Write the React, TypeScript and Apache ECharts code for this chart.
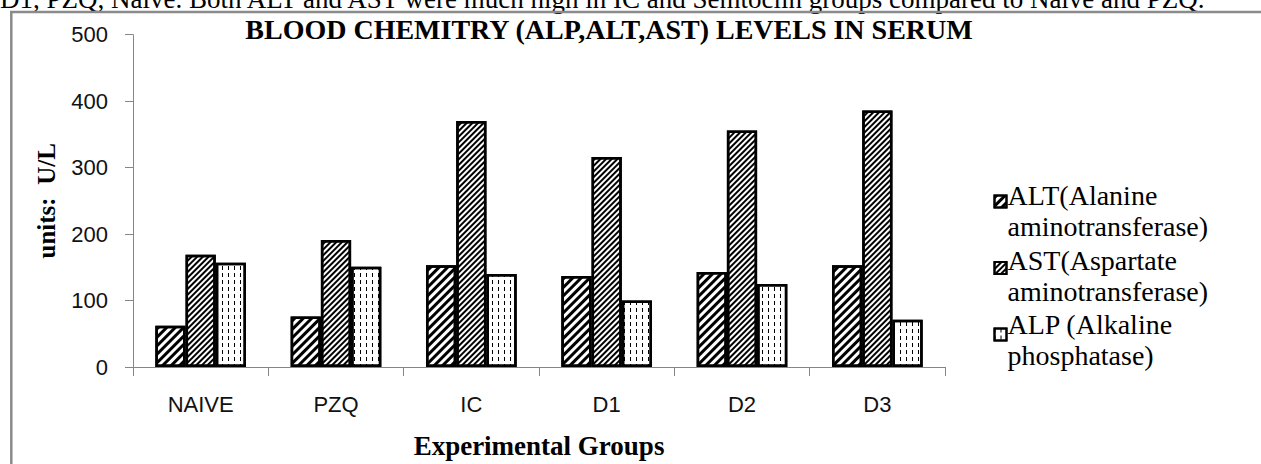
import React, { useEffect, useRef } from "react";
import * as echarts from "echarts";

const categories = ["NAIVE", "PZQ", "IC", "D1", "D2", "D3"];
const altValues = [62, 76, 153, 137, 143, 153];
const astValues = [169, 191, 370, 316, 356, 386];
const alpValues = [157, 151, 140, 100, 125, 71];
const seriesNames = [
  "ALT(Alanine\naminotransferase)",
  "AST(Aspartate\naminotransferase)",
  "ALP (Alkaline\nphosphatase)",
];
const yTicks = { min: 0, max: 500, interval: 100 };

const title = "BLOOD CHEMITRY (ALP,ALT,AST) LEVELS IN SERUM";
const topText =
  "D1, PZQ, Naive. Both ALT and AST were much high in IC and Semtoclin groups compared to Naive and PZQ.";

const serif = "'Liberation Serif', 'Times New Roman', serif";
const sans = "'Liberation Sans', Arial, sans-serif";

export default function App() {
  const ref = useRef<HTMLDivElement>(null);
  useEffect(() => {
    if (!ref.current) return;
    const chart = echarts.init(ref.current, null, { renderer: "svg" });
    const decals = [
      {
        symbol: "rect",
        symbolSize: 1,
        color: "#000",
        backgroundColor: "#fff",
        dashArrayX: [1, 0],
        dashArrayY: [3, 3],
        rotation: -Math.PI / 4,
      },
      {
        symbol: "rect",
        symbolSize: 1,
        color: "#000",
        backgroundColor: "#fff",
        dashArrayX: [1, 0],
        dashArrayY: [2, 2],
        rotation: -Math.PI / 4,
      },
      {
        symbol: "rect",
        symbolSize: 1,
        color: "#000",
        backgroundColor: "#fff",
        dashArrayX: [1, 5],
        dashArrayY: [4, 3],
        rotation: 0,
      },
    ];
    const data = [altValues, astValues, alpValues];
    const legendLeft = 988.5;
    const firstCenter = 195.5;
    const lineH = 31;
    const itemStep = 64.5;
    const legendFont = 28;
    const iconSize = 12;
    const legendTexts = seriesNames.map((n, i) => ({
      type: "text",
      x: legendLeft + iconSize + 7,
      y: firstCenter - lineH / 2 + i * itemStep,
      style: {
        text: n,
        font: `${legendFont}px ${serif}`,
        lineHeight: lineH,
        fill: "#000",
        verticalAlign: "top",
        align: "left",
      },
    }));
    chart.setOption({
      animation: false,
      backgroundColor: "#fff",
      grid: { left: 133, right: 316, top: 34.7, bottom: 88 },
      title: {
        text: title,
        left: 604,
        textAlign: "center",
        top: 10,
        textStyle: { fontFamily: serif, fontWeight: "bold", fontSize: 28, color: "#000" },
      },
      legend: {
        orient: "vertical",
        left: legendLeft,
        top: firstCenter - iconSize / 2,
        itemWidth: iconSize,
        itemHeight: iconSize,
        itemGap: itemStep - iconSize,
        icon: "rect",
        data: seriesNames,
        formatter: () => "",
        textStyle: { fontSize: 1 },
      },
      xAxis: {
        type: "category",
        data: categories,
        name: "Experimental Groups",
        nameLocation: "middle",
        nameGap: 65,
        nameTextStyle: {
          fontFamily: serif,
          fontWeight: "bold",
          fontSize: 27,
          color: "#000",
        },
        axisLine: { lineStyle: { color: "#868686", width: 1 } },
        axisTick: { show: true, length: 9, lineStyle: { color: "#868686" } },
        axisLabel: { fontFamily: sans, fontSize: 22, color: "#111", margin: 26 },
      },
      yAxis: {
        type: "value",
        min: yTicks.min,
        max: yTicks.max,
        interval: yTicks.interval,
        name: "units:  U/L",
        nameLocation: "middle",
        nameGap: 74,
        nameRotate: 90,
        nameTextStyle: { fontFamily: serif, fontWeight: "bold", fontSize: 25, color: "#000" },
        axisLine: { show: true, lineStyle: { color: "#868686", width: 1 } },
        axisTick: { show: true, length: 8, lineStyle: { color: "#868686" } },
        splitLine: { show: false },
        axisLabel: { fontFamily: sans, fontSize: 22, color: "#111", margin: 25 },
      },
      series: seriesNames.map((name, i) => ({
        name,
        type: "bar",
        data: data[i],
        barGap: "0%",
        barCategoryGap: "33%",
        itemStyle: {
          color: "#fff",
          borderColor: "#000",
          borderWidth: 2.5,
          decal: decals[i],
        },
      })),
      graphic: [
        {
          type: "text",
          x: 0,
          y: -15,
          style: { text: topText, font: `27px ${serif}`, fill: "#000", verticalAlign: "top" },
        },
        {
          type: "line",
          shape: { x1: 10, y1: 12, x2: 1261, y2: 12 },
          style: { stroke: "#8a8a8a", lineWidth: 2.5 },
        },
        {
          type: "line",
          shape: { x1: 11.3, y1: 12, x2: 11.3, y2: 464 },
          style: { stroke: "#8a8a8a", lineWidth: 2.5 },
        },
        ...legendTexts,
      ],
    });
    return () => chart.dispose();
  }, []);
  return (
    <div
      ref={ref}
      style={{ position: "fixed", left: 0, top: 0, width: 1261, height: 464 }}
    />
  );
}
